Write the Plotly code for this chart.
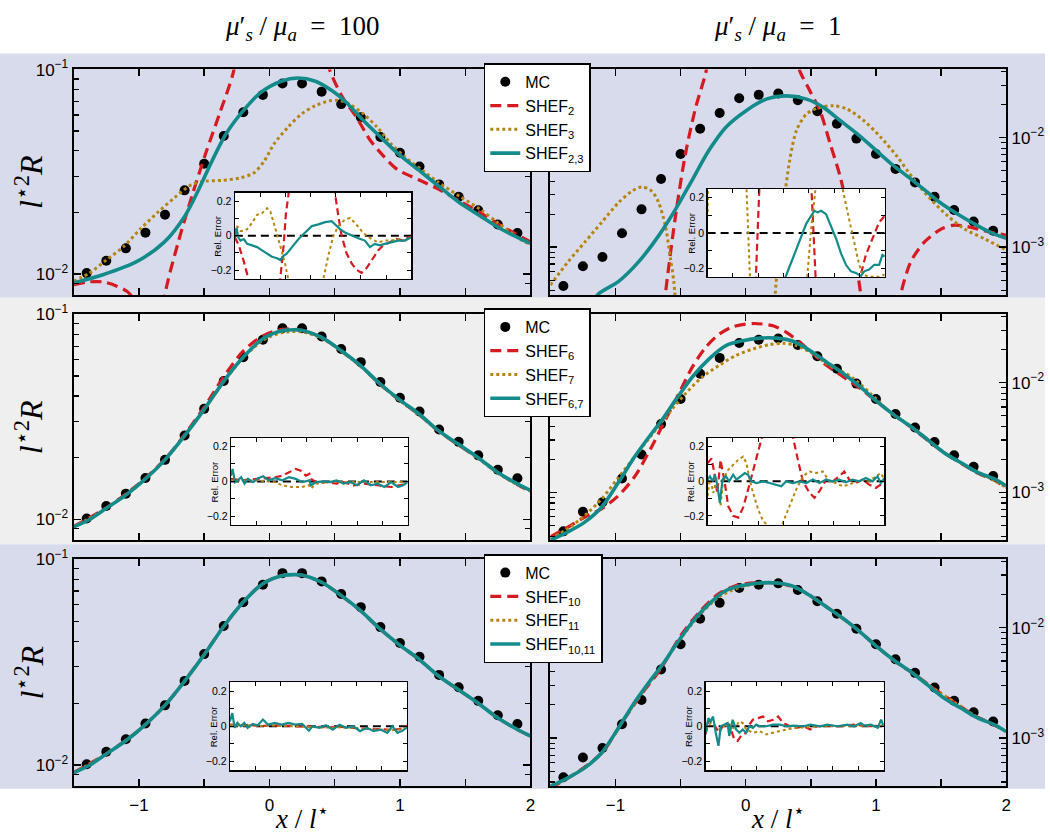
import plotly.graph_objects as go

W, H = 1050, 837
SANS = "Liberation Sans, Arial, Helvetica, sans-serif"
SERIF = "Liberation Serif, Times New Roman, serif"
RED = "#d71920"
GOLD = "#b5850f"
TEAL = "#148b8b"
BAND_BLUE = "#d8dbec"
BAND_GRAY = "#efefef"

# ---------------------------------------------------------------- data
X_MC = [-1.40, -1.25, -1.10, -0.95, -0.80, -0.65, -0.50, -0.35, -0.20, -0.05,
        0.10, 0.25, 0.40, 0.55, 0.70, 0.85, 1.00, 1.15, 1.30, 1.45, 1.60, 1.75, 1.90]
MC_A = [0.01009, 0.01161, 0.01334, 0.01592, 0.01950, 0.02564, 0.03459, 0.04732, 0.06180, 0.07516,
        0.08551, 0.08551, 0.07798, 0.06776, 0.05848, 0.04677, 0.03917, 0.03357, 0.02742, 0.02388,
        0.02051, 0.01746, 0.01585]
MC_B = [4.42e-4, 6.68e-4, 8.13e-4, 1.337e-3, 2.213e-3, 4.19e-3, 7.08e-3, 1.205e-2, 1.679e-2, 2.291e-2,
        2.455e-2, 2.523e-2, 2.198e-2, 1.738e-2, 1.337e-2, 9.79e-3, 7.08e-3, 5.18e-3, 3.90e-3, 2.877e-3,
        2.183e-3, 1.714e-3, 1.413e-3]

# row 1, mu_s'/mu_a = 100
X_R1L_S2 = [-1.5, -1.39, -1.276, -1.17, -1.066, -0.95, -0.85, -0.80, -0.698, -0.594, -0.488, -0.383, -0.278, -0.22,
            None, 0.40, 0.457, 0.562, 0.667, 0.772, 0.878, 0.982, 1.14, 1.298, 1.455, 1.612, 1.771, 2.0]
Y_R1L_S2 = [0.00887, 0.00914, 0.00914, 0.00871, 0.00794, 0.0040, 0.0040, 0.00794, 0.01435, 0.02404, 0.03890, 0.06067, 0.09616, 0.16,
            None, 0.16, 0.1016, 0.07295, 0.05848, 0.04508, 0.03750, 0.03236, 0.02897, 0.02594, 0.02275, 0.02000, 0.01726, 0.01435]
X_R1L_S3 = [-1.5, -1.38, -1.25, -1.119, -0.987, -0.856, -0.725, -0.594, -0.488, -0.357, -0.225, -0.12, -0.042, 0.037,
            0.142, 0.247, 0.352, 0.457, 0.523, 0.589, 0.72, 0.825, 0.93, 1.035, 1.166, 1.298, 1.455, 1.612, 1.744, 1.954, 2.0]
Y_R1L_S3 = [0.00920, 0.01009, 0.01169, 0.01358, 0.01663, 0.02000, 0.02366, 0.02742, 0.02844, 0.02871, 0.02951, 0.03119,
            0.03548, 0.04345, 0.05224, 0.06067, 0.06653, 0.07031, 0.07079, 0.06902, 0.06067, 0.05224, 0.04345, 0.03750,
            0.03236, 0.02793, 0.02404, 0.02075, 0.01791, 0.01435, 0.01400]
X_R1L_S23 = [-1.5, -1.276, -1.014, -0.804, -0.646, -0.541, -0.436, -0.331, -0.20, -0.068, 0.090, 0.221, 0.352, 0.483,
             0.589, 0.72, 0.851, 0.983, 1.14, 1.298, 1.455, 1.612, 1.771, 2.0]
Y_R1L_S23 = [0.00904, 0.00991, 0.01151, 0.01435, 0.01928, 0.02594, 0.03614, 0.04864, 0.06295, 0.07709, 0.08770, 0.09099,
             0.08770, 0.07852, 0.06902, 0.05636, 0.04677, 0.03890, 0.03236, 0.02685, 0.02234, 0.01928, 0.01663, 0.01409]

# row 1, mu_s'/mu_a = 1
X_R1R_S2 = [-0.64, -0.617, -0.539, -0.462, -0.384, -0.307, -0.28, None, 0.39, 0.411, 0.493, 0.570, 0.648, 0.725, 0.803,
            0.854, 0.880, 0.90, None, 1.17, 1.190, 1.267, 1.371, 1.500, 1.603, 1.732, 1.861, 2.0]
Y_R1R_S2 = [2.0e-4, 3.72e-4, 1.928e-3, 7.18e-3, 1.888e-2, 3.90e-2, 0.06, None, 0.06, 4.19e-2, 2.667e-2, 1.762e-2, 8.83e-3,
            4.42e-3, 1.679e-3, 6.38e-4, 3.94e-4, 2.0e-4, None, 2.0e-4, 3.66e-4, 7.33e-4, 1.109e-3, 1.462e-3, 1.589e-3,
            1.514e-3, 1.384e-3, 1.291e-3]
X_R1R_S3 = [-1.5, -1.365, -1.236, -1.107, -0.978, -0.875, -0.797, -0.720, -0.668, -0.617, -0.578, -0.552, -0.53, None,
            0.21, 0.248, 0.287, 0.338, 0.390, 0.467, 0.570, 0.674, 0.777, 0.906, 1.035, 1.164, 1.293, 1.422, 1.551, 1.680,
            1.835, 2.0]
Y_R1R_S3 = [4.51e-4, 7.33e-4, 1.109e-3, 1.679e-3, 2.541e-3, 3.236e-3, 3.548e-3, 3.236e-3, 2.541e-3, 1.567e-3, 7.85e-4,
            4.84e-4, 2.0e-4, None, 2.0e-4, 7.85e-4, 2.213e-3, 6.24e-3, 1.164e-2, 1.644e-2, 1.888e-2, 1.954e-2, 1.824e-2,
            1.432e-2, 1.012e-2, 6.68e-3, 4.12e-3, 2.723e-3, 1.928e-3, 1.462e-3, 1.189e-3, 9.40e-4]
X_R1R_S23 = [-1.2, -1.133, -0.978, -0.823, -0.668, -0.539, -0.410, -0.281, -0.152, 0.003, 0.158, 0.313, 0.467, 0.596,
             0.725, 0.854, 0.984, 1.113, 1.242, 1.371, 1.5, 1.629, 1.758, 1.887, 2.0]
Y_R1R_S23 = [2.8e-4, 3.72e-4, 4.84e-4, 7.33e-4, 1.274e-3, 2.213e-3, 4.12e-3, 7.69e-3, 1.245e-2, 1.762e-2, 2.244e-2,
             2.404e-2, 2.244e-2, 1.888e-2, 1.432e-2, 1.086e-2, 7.96e-3, 5.83e-3, 4.42e-3, 3.35e-3, 2.512e-3, 1.995e-3,
             1.622e-3, 1.349e-3, 1.202e-3]

# converged curves (rows 2 and 3)
X_T_A = [-1.5, -1.382, -1.25, -1.10, -0.948, -0.801, -0.651, -0.501, -0.352, -0.20, -0.05, 0.103, 0.194, 0.247, 0.397,
         0.549, 0.694, 0.843, 0.996, 1.145, 1.293, 1.447, 1.595, 1.744, 1.897, 2.0]
Y_T_A = [0.00918, 0.00995, 0.01132, 0.01312, 0.01578, 0.01950, 0.02553, 0.03428, 0.04699, 0.06194, 0.07603, 0.08337,
         0.08414, 0.08375, 0.07745, 0.06668, 0.05649, 0.04613, 0.03837, 0.03273, 0.02716, 0.02328, 0.02009, 0.01702,
         0.01493, 0.01384]
X_GRID_A = [-1.5, -1.25, -1.0, -0.8, -0.65, -0.5, -0.35, -0.2, -0.05, 0.1, 0.25, 0.4, 0.55, 0.7, 0.85, 1.0, 1.15, 1.3,
            1.45, 1.6, 1.75, 1.9, 2.0]
Y_R2L_S6 = [0.00922, 0.01138, 0.01490, 0.01965, 0.02590, 0.03520, 0.04960, 0.06630, 0.07860, 0.0845, 0.0836, 0.0771,
            0.0664, 0.0559, 0.0455, 0.0380, 0.0323, 0.0268, 0.0230, 0.0199, 0.0169, 0.01475, 0.01370]
Y_R2L_S7 = [0.00918, 0.01130, 0.01478, 0.01950, 0.02555, 0.03430, 0.04700, 0.06150, 0.07480, 0.0815, 0.0822, 0.0765,
            0.0661, 0.0557, 0.0454, 0.0379, 0.0322, 0.0268, 0.0230, 0.0198, 0.0168, 0.01475, 0.01372]
Y_R3L_S10 = [0.00920, 0.01135, 0.01478, 0.01950, 0.02565, 0.03445, 0.04730, 0.06210, 0.07620, 0.08340, 0.08365, 0.07725,
             0.06655, 0.05605, 0.04565, 0.03815, 0.03245, 0.02695, 0.02315, 0.01995, 0.01695, 0.01488, 0.01382]
Y_R3L_S11 = [0.00917, 0.01131, 0.01481, 0.01953, 0.02558, 0.03432, 0.04712, 0.06190, 0.07598, 0.08326, 0.08368, 0.07728,
             0.06658, 0.05608, 0.04568, 0.03818, 0.03248, 0.02698, 0.02318, 0.01998, 0.01698, 0.01489, 0.01383]

X_T_B = [-1.5, -1.365, -1.236, -1.107, -0.978, -0.849, -0.720, -0.642, -0.539, -0.410, -0.281, -0.152, -0.023, 0.106,
         0.235, 0.364, 0.493, 0.622, 0.751, 0.880, 1.009, 1.138, 1.267, 1.396, 1.525, 1.654, 1.784, 1.912, 2.0]
Y_T_B = [3.67e-4, 4.37e-4, 5.37e-4, 7.33e-4, 1.230e-3, 2.143e-3, 3.475e-3, 4.58e-3, 6.93e-3, 1.125e-2, 1.644e-2,
         2.173e-2, 2.410e-2, 2.541e-2, 2.541e-2, 2.377e-2, 1.959e-2, 1.535e-2, 1.205e-2, 9.14e-3, 6.70e-3, 5.08e-3,
         3.99e-3, 3.03e-3, 2.291e-3, 1.862e-3, 1.514e-3, 1.321e-3, 1.148e-3]
X_R2R_S6 = [-1.5, -1.365, -1.236, -1.107, -0.978, -0.849, -0.720, -0.617, -0.513, -0.410, -0.307, -0.204, -0.100, 0.055,
            0.210, 0.313, 0.416, 0.519, 0.622, 0.751, 0.880, 1.009, 1.138, 1.267, 1.396, 1.525, 1.654, 1.784, 1.912, 2.0]
Y_R2R_S6 = [3.94e-4, 4.84e-4, 5.96e-4, 7.08e-4, 9.33e-4, 1.413e-3, 2.636e-3, 4.58e-3, 7.96e-3, 1.384e-2, 2.099e-2,
            2.761e-2, 3.221e-2, 3.451e-2, 3.289e-2, 2.864e-2, 2.328e-2, 1.824e-2, 1.435e-2, 1.125e-2, 8.83e-3, 6.70e-3,
            5.08e-3, 3.94e-3, 2.99e-3, 2.291e-3, 1.841e-3, 1.496e-3, 1.288e-3, 1.109e-3]
X_R2R_S7 = [-1.5, -1.365, -1.236, -1.107, -0.978, -0.849, -0.720, -0.591, -0.462, -0.333, -0.204, -0.075, 0.055, 0.184,
            0.287, 0.390, 0.519, 0.622, 0.725, 0.829, 0.958, 1.1, 1.3, 1.5, 1.7, 1.9, 2.0]
Y_R2R_S7 = [3.80e-4, 4.68e-4, 6.17e-4, 8.71e-4, 1.365e-3, 2.143e-3, 3.357e-3, 5.26e-3, 7.96e-3, 1.125e-2, 1.435e-2,
            1.766e-2, 2.023e-2, 2.218e-2, 2.280e-2, 2.173e-2, 1.824e-2, 1.483e-2, 1.288e-2, 1.086e-2, 7.96e-3, 5.50e-3,
            3.76e-3, 2.427e-3, 1.718e-3, 1.303e-3, 1.109e-3]
X_GRID_B = [-1.5, -1.3, -1.1, -0.95, -0.8, -0.65, -0.5, -0.35, -0.2, -0.05, 0.1, 0.25, 0.4, 0.55, 0.7, 0.85, 1.0, 1.15,
            1.3, 1.45, 1.6, 1.75, 1.9, 2.0]
Y_R3R_S10 = [3.52e-4, 4.85e-4, 7.45e-4, 1.39e-3, 2.50e-3, 4.28e-3, 8.45e-3, 1.41e-2, 2.06e-2, 2.45e-2, 2.55e-2, 2.53e-2,
             2.26e-2, 1.77e-2, 1.33e-2, 9.78e-3, 6.86e-3, 4.93e-3, 3.75e-3, 2.78e-3, 2.12e-3, 1.62e-3, 1.33e-3, 1.15e-3]
Y_R3R_S11 = [3.62e-4, 4.82e-4, 7.42e-4, 1.40e-3, 2.53e-3, 4.42e-3, 7.95e-3, 1.32e-2, 1.92e-2, 2.31e-2, 2.52e-2, 2.53e-2,
             2.26e-2, 1.77e-2, 1.33e-2, 9.80e-3, 6.85e-3, 4.93e-3, 3.75e-3, 2.78e-3, 2.12e-3, 1.62e-3, 1.33e-3, 1.148e-3]

# insets: relative error
ZERO_X = [-1.5, 2.0]
ZERO_Y = [0.0, 0.0]

X_I1L_S2 = [-1.5, -1.421, -1.322, -1.237, -1.22, None, -0.61, -0.599, -0.533, -0.487, -0.434, -0.42, None,
            0.48, 0.487, 0.553, 0.618, 0.717, 0.816, 0.914, 1.013, 1.112, 1.211, 1.342, 1.441, 1.572, 1.704, 1.836, 2.0]
Y_I1L_S2 = [-0.009, -0.056, -0.150, -0.244, -0.35, None, -0.35, -0.248, -0.056, 0.131, 0.244, 0.35, None,
            0.35, 0.244, 0.113, 0.0, -0.103, -0.160, -0.197, -0.216, -0.188, -0.141, -0.085, -0.056, -0.038, -0.019,
            -0.028, 0.0]
X_I1L_S3 = [-1.5, -1.454, -1.388, -1.322, -1.257, -1.158, -1.059, -0.961, -0.862, -0.796, -0.730, -0.632, -0.566, -0.500,
            -0.447, -0.43, None, 0.24, 0.257, 0.355, 0.454, 0.553, 0.684, 0.783, 0.882, 1.013, 1.112, 1.211, 1.342, 1.474,
            1.605, 1.737, 1.868, 2.0]
Y_I1L_S3 = [0.019, 0.056, 0.028, 0.028, 0.038, 0.075, 0.122, 0.131, 0.160, 0.141, 0.075, -0.019, -0.094, -0.169,
            -0.244, -0.35, None, -0.35, -0.248, -0.113, 0.0, 0.056, 0.094, 0.103, 0.075, 0.028, 0.0, -0.019, -0.038,
            -0.028, -0.028, -0.019, -0.028, -0.009]
X_I1L_S23 = [-1.5, -1.467, -1.434, -1.388, -1.322, -1.257, -1.158, -1.059, -0.961, -0.862, -0.763, -0.664, -0.599,
             -0.533, -0.467, -0.368, -0.237, -0.105, 0.026, 0.158, 0.289, 0.421, 0.487, 0.586, 0.684, 0.816, 0.947,
             1.079, 1.178, 1.276, 1.375, 1.474, 1.605, 1.737, 1.868, 2.0]
Y_I1L_S23 = [0.0, 0.047, -0.009, -0.028, -0.019, -0.047, -0.056, -0.066, -0.085, -0.103, -0.122, -0.131, -0.141,
             -0.116, -0.103, -0.066, -0.019, 0.019, 0.056, 0.066, 0.079, 0.085, 0.066, 0.038, 0.019, 0.0, -0.015,
             -0.028, -0.066, -0.047, -0.056, -0.047, -0.038, -0.028, -0.028, -0.009]

X_I1R_S2 = [-0.56, -0.465, None, 0.535, 0.65, None, 1.49, 1.515, 1.626, 1.757, 1.889, 2.0]
Y_I1R_S2 = [-0.35, 0.35, None, 0.35, -0.35, None, -0.35, -0.248, -0.124, -0.031, 0.061, 0.098]
X_I1R_S3 = [-1.5, -1.49, None, -0.745, -0.65, None, 0.44, 0.545, 0.61, 0.665, None, 1.15, 1.167, 1.266, 1.364, 1.430,
            1.495, 1.561, 1.692, 1.889, 2.0]
Y_I1R_S3 = [0.12, 0.35, None, 0.35, -0.35, None, -0.35, 0.024, 0.19, 0.35, None, 0.35, 0.25, 0.117, -0.013, -0.106,
            -0.18, -0.235, -0.248, -0.248, -0.235]
X_I1R_S23 = [0.0, 0.040, 0.184, 0.316, 0.447, 0.545, 0.610, 0.676, 0.742, 0.840, 0.938, 1.037, 1.135, 1.233, 1.331,
             1.430, 1.528, 1.594, 1.692, 1.790, 1.889, 1.954, 2.0]
Y_I1R_S23 = [-0.32, -0.248, -0.143, -0.05, 0.052, 0.098, 0.126, 0.117, 0.126, 0.107, 0.043, -0.031, -0.115, -0.18,
             -0.217, -0.226, -0.244, -0.217, -0.207, -0.18, -0.18, -0.124, -0.133]

X_I2L_S6 = [-1.5, -1.297, -0.959, -0.622, -0.486, -0.351, -0.216, -0.115, -0.014, 0.054, 0.088, 0.189, 0.392, 0.595,
            0.730, 0.932, 1.135, 1.405, 1.676, 2.0]
Y_I2L_S6 = [0.015, 0.006, 0.015, 0.024, 0.033, 0.052, 0.071, 0.061, 0.033, 0.043, 0.015, -0.004, -0.004, -0.013,
            -0.004, -0.022, -0.013, -0.022, -0.032, -0.013]
X_I2L_S7 = [-1.5, -1.0, -0.622, -0.486, -0.30, -0.1, 0.054, 0.088, 0.189, 0.459, 0.73, 1.0, 1.4, 2.0]
Y_I2L_S7 = [0.006, 0.006, -0.004, -0.022, -0.032, -0.032, -0.022, -0.041, -0.013, -0.004, -0.004, -0.004, -0.004,
            -0.004]
X_I2L_S67 = [-1.5, -1.466, -1.419, -1.365, -1.297, -1.230, -1.162, -1.061, -0.959, -0.858, -0.757, -0.622, -0.486,
             -0.351, -0.216, -0.081, 0.054, 0.088, 0.189, 0.324, 0.459, 0.595, 0.730, 0.865, 1.0, 1.135, 1.270, 1.405,
             1.541, 1.676, 1.811, 1.912, 2.0]
Y_I2L_S67 = [0.033, 0.071, -0.004, 0.006, 0.024, -0.013, 0.015, -0.004, 0.019, 0.030, 0.006, 0.019, 0.006, 0.024,
             0.015, -0.004, 0.006, -0.022, -0.004, 0.0, -0.004, 0.006, -0.013, -0.004, -0.022, 0.006, -0.022, -0.013,
             -0.032, -0.004, -0.032, -0.022, -0.004]

X_I2R_S6 = [-1.5, -1.421, -1.356, -1.31, -1.244, -1.159, -1.093, -0.994, -0.896, -0.797, -0.699, -0.600, -0.501,
            -0.423, -0.40, None, 0.17, 0.188, 0.287, 0.386, 0.517, 0.616, 0.714, 0.844, 0.976, 1.106, 1.204, 1.303,
            1.435, 1.566, 1.697, 1.829, 1.927, 2.0]
Y_I2R_S6 = [0.105, 0.133, 0.029, -0.067, 0.124, -0.01, -0.143, -0.2, -0.21, -0.152, -0.048, 0.067, 0.181, 0.257, 0.35,
            None, 0.35, 0.257, 0.124, 0.0, -0.067, -0.095, -0.057, 0.01, 0.0, 0.029, 0.057, 0.01, -0.01, 0.01, -0.019,
            -0.038, -0.019, -0.029]
X_I2R_S7 = [-1.5, -1.454, -1.388, -1.323, -1.244, -1.191, -1.093, -0.994, -0.896, -0.797, -0.732, -0.667, -0.600,
            -0.501, -0.403, -0.304, -0.25, None, -0.08, -0.009, 0.122, 0.253, 0.386, 0.517, 0.648, 0.779, 0.910, 1.041,
            1.172, 1.303, 1.435, 1.566, 1.697, 1.829, 1.927, 2.0]
Y_I2R_S7 = [-0.086, 0.029, -0.067, 0.01, -0.143, 0.01, 0.067, 0.095, 0.124, 0.143, 0.105, 0.01, -0.067, -0.162,
            -0.229, -0.257, -0.35, None, -0.35, -0.238, -0.143, -0.048, 0.029, 0.057, 0.048, 0.057, 0.0, -0.01,
            -0.029, -0.019, 0.0, 0.01, 0.0, 0.029, 0.048, 0.01]
X_I2R_S67 = [-1.5, -1.454, -1.40, -1.356, -1.31, -1.257, -1.205, -1.139, -1.073, -0.994, -0.929, -0.85, -0.765,
             -0.699, -0.633, -0.534, -0.403, -0.272, -0.141, -0.042, 0.056, 0.188, 0.32, 0.451, 0.583, 0.714, 0.844,
             0.976, 1.106, 1.237, 1.369, 1.5, 1.632, 1.763, 1.862, 1.927, 2.0]
Y_I2R_S67 = [0.01, 0.029, 0.0, 0.038, -0.019, -0.124, 0.01, 0.029, 0.0, 0.038, 0.01, 0.029, 0.048, 0.038, 0.0, -0.01,
             0.0, -0.01, -0.019, -0.029, 0.0, -0.01, 0.0, -0.01, 0.01, -0.01, 0.01, 0.0, 0.01, -0.006, 0.01, 0.0, 0.019,
             0.0, 0.029, -0.01, 0.019]

X_I3L_S10 = [-1.5, -1.3, -1.1, -0.9, -0.7, -0.5, -0.3, -0.1, 0.1, 0.3, 0.5, 0.7, 0.9, 1.1, 1.3, 1.5, 1.7, 1.9, 2.0]
Y_I3L_S10 = [0.01, 0.005, 0.008, 0.0, 0.006, 0.004, 0.002, 0.0, -0.004, -0.002, -0.006, -0.004, -0.01, -0.012, -0.015,
             -0.018, -0.02, -0.015, 0.005]
Y_I3L_S11 = [0.008, 0.004, 0.006, 0.002, 0.004, 0.002, 0.0, -0.002, -0.005, -0.004, -0.008, -0.006, -0.012, -0.014,
             -0.016, -0.02, -0.022, -0.016, 0.0]
X_I3L_S1011 = [-1.5, -1.453, -1.406, -1.352, -1.285, -1.217, -1.150, -1.049, -0.948, -0.847, -0.746, -0.611, -0.477,
               -0.342, -0.208, -0.073, 0.062, 0.129, 0.264, 0.398, 0.533, 0.667, 0.802, 0.937, 1.071, 1.206, 1.340,
               1.475, 1.610, 1.711, 1.812, 1.913, 2.0]
Y_I3L_S1011 = [0.028, 0.075, -0.009, 0.019, 0.0, 0.019, -0.009, 0.013, 0.006, 0.038, 0.009, 0.019, 0.009, 0.019,
               0.009, 0.013, -0.025, 0.0, -0.009, 0.006, -0.019, 0.009, -0.009, 0.0, -0.028, -0.009, -0.028, -0.019,
               -0.038, 0.0, -0.038, -0.025, -0.006]

X_I3R_S10 = [-1.5, -1.434, -1.334, -1.235, -1.135, -1.036, -0.937, -0.870, -0.804, -0.705, -0.638, -0.572, -0.473,
             -0.373, -0.274, -0.174, -0.075, 0.025, 0.157, 0.290, 0.423, 0.555, 0.688, 0.887, 1.152, 1.417, 1.748, 2.0]
Y_I3R_S10 = [-0.046, 0.037, 0.009, -0.037, 0.018, 0.009, -0.074, -0.083, -0.055, -0.037, 0.009, 0.037, 0.046, 0.055,
             0.028, 0.037, 0.055, 0.018, 0.0, -0.009, 0.0, -0.018, 0.0, 0.004, 0.0, 0.009, 0.0, 0.004]
X_I3R_S11 = [-1.5, -1.401, -1.301, -1.202, -1.102, -1.003, -0.903, -0.837, -0.771, -0.705, -0.572, -0.439, -0.307,
             -0.174, -0.042, 0.091, 0.290, 0.489, 0.754, 1.085, 1.417, 2.0]
Y_I3R_S11 = [-0.018, 0.018, -0.009, -0.018, 0.009, -0.018, 0.0, 0.028, 0.018, -0.018, -0.037, -0.028, -0.046, -0.037,
             -0.028, -0.018, -0.009, -0.004, 0.0, 0.0, 0.004, 0.0]
X_I3R_S1011 = [-1.5, -1.447, -1.401, -1.354, -1.301, -1.248, -1.202, -1.135, -1.069, -1.036, -0.970, -0.903, -0.837,
               -0.771, -0.705, -0.638, -0.572, -0.506, -0.439, -0.307, -0.174, -0.042, 0.091, 0.224, 0.423, 0.555,
               0.754, 0.887, 1.085, 1.284, 1.417, 1.549, 1.616, 1.748, 1.881, 1.947, 2.0]
Y_I3R_S1011 = [-0.037, 0.046, 0.028, 0.055, -0.037, -0.111, 0.0, 0.009, 0.018, -0.055, 0.037, -0.018, -0.037, -0.018,
               -0.037, 0.0, -0.009, 0.009, 0.0, 0.0, 0.009, 0.009, 0.0, 0.004, 0.0, 0.009, 0.0, 0.009, 0.0, 0.009, 0.0,
               0.018, 0.004, 0.009, -0.009, 0.037, 0.0]

# ticks and labels (major ticks carry labels, minor ticks are unlabeled)
X_TICKS = [-1, 0, 1, 2]
X_TICKTEXT = ["\u22121", "0", "1", "2"]
X_MINOR = [-0.5, 0.5, 1.5]
Y_TICKS_A = [0.01, 0.1]
Y_TICKTEXT_A = ["10<sup>\u22122</sup>", "10<sup>\u22121</sup>"]
Y_MINOR_A = [0.009, 0.02, 0.03, 0.04, 0.05, 0.06, 0.07, 0.08, 0.09]
Y_TICKS_B = [1e-3, 1e-2]
Y_TICKTEXT_B = ["10<sup>\u22123</sup>", "10<sup>\u22122</sup>"]
Y_MINOR_B = [4e-4, 5e-4, 6e-4, 7e-4, 8e-4, 9e-4, 2e-3, 3e-3, 4e-3, 5e-3, 6e-3, 7e-3, 8e-3, 9e-3, 2e-2, 3e-2, 4e-2]
INSET_X_TICKS = [-1, -0.5, 0, 0.5, 1, 1.5]
INSET_Y_TICKS = [-0.2, 0, 0.2]
INSET_Y_TICKTEXT = ["\u22120.2", "0", "0.2"]
INSET_Y_MINOR = [-0.1, 0.1]

COL_TITLES = ["<i>\u03bc</i>\u2032<sub><i>s</i></sub> / <i>\u03bc</i><sub><i>a</i></sub>  =  100",
              "<i>\u03bc</i>\u2032<sub><i>s</i></sub> / <i>\u03bc</i><sub><i>a</i></sub>  =  1"]
Y_TITLE = "<i>l</i><sup>\u22c62</sup><i>R</i>"
X_TITLE = "<i>x</i> / <i>l</i><sup>\u22c6</sup>"
LEGEND_NAMES = [
    ["MC", "SHEF<sub>2</sub>", "SHEF<sub>3</sub>", "SHEF<sub>2,3</sub>"],
    ["MC", "SHEF<sub>6</sub>", "SHEF<sub>7</sub>", "SHEF<sub>6,7</sub>"],
    ["MC", "SHEF<sub>10</sub>", "SHEF<sub>11</sub>", "SHEF<sub>10,11</sub>"],
]

PANELS = [
    dict(mc=MC_A, a=(X_R1L_S2, Y_R1L_S2), b=(X_R1L_S3, Y_R1L_S3), ab=(X_R1L_S23, Y_R1L_S23),
         ia=(X_I1L_S2, Y_I1L_S2), ib=(X_I1L_S3, Y_I1L_S3), iab=(X_I1L_S23, Y_I1L_S23)),
    dict(mc=MC_B, a=(X_R1R_S2, Y_R1R_S2), b=(X_R1R_S3, Y_R1R_S3), ab=(X_R1R_S23, Y_R1R_S23),
         ia=(X_I1R_S2, Y_I1R_S2), ib=(X_I1R_S3, Y_I1R_S3), iab=(X_I1R_S23, Y_I1R_S23)),
    dict(mc=MC_A, a=(X_GRID_A, Y_R2L_S6), b=(X_GRID_A, Y_R2L_S7), ab=(X_T_A, Y_T_A),
         ia=(X_I2L_S6, Y_I2L_S6), ib=(X_I2L_S7, Y_I2L_S7), iab=(X_I2L_S67, Y_I2L_S67)),
    dict(mc=MC_B, a=(X_R2R_S6, Y_R2R_S6), b=(X_R2R_S7, Y_R2R_S7), ab=(X_T_B, Y_T_B),
         ia=(X_I2R_S6, Y_I2R_S6), ib=(X_I2R_S7, Y_I2R_S7), iab=(X_I2R_S67, Y_I2R_S67)),
    dict(mc=MC_A, a=(X_GRID_A, Y_R3L_S10), b=(X_GRID_A, Y_R3L_S11), ab=(X_T_A, Y_T_A),
         ia=(X_I3L_S10, Y_I3L_S10), ib=(X_I3L_S10, Y_I3L_S11), iab=(X_I3L_S1011, Y_I3L_S1011)),
    dict(mc=MC_B, a=(X_GRID_B, Y_R3R_S10), b=(X_GRID_B, Y_R3R_S11), ab=(X_T_B, Y_T_B),
         ia=(X_I3R_S10, Y_I3R_S10), ib=(X_I3R_S11, Y_I3R_S11), iab=(X_I3R_S1011, Y_I3R_S1011)),
]

# ---------------------------------------------------------------- layout geometry (pixels)
PANEL_X = [(74, 533), (553, 1011)]
PANEL_Y = [(58.3, 287.0), (306.7, 536.0), (555.0, 785.5)]
INSET_BOX = [(236, 413.3, 183.3, 270.7), (711, 889, 179.5, 269.0),
             (232, 409.5, 432.0, 520.5), (711, 888.7, 432.3, 520.0),
             (231, 409, 680.0, 769.3), (709, 888, 680.0, 769.3)]
BANDS = [(42, 290, BAND_BLUE), (290, 540, BAND_GRAY), (540, 788, BAND_BLUE)]
LEGEND_TOP = [52, 300.7, 550]
LEGEND_LEFT = 486
Y_RANGE_A = [-2.1026, -0.9995]
Y_RANGE_B = [-3.436, -1.378]


def xr(n):
    return "x" if n == 1 else f"x{n}"


def yr(n):
    return "y" if n == 1 else f"y{n}"


def xk(n):
    return "xaxis" if n == 1 else f"xaxis{n}"


def yk(n):
    return "yaxis" if n == 1 else f"yaxis{n}"


def minor_ticks(vals, length, width):
    return dict(tickmode="array", tickvals=vals, ticks="inside", ticklen=length, tickwidth=width,
                tickcolor="black", showgrid=False)


fig = go.Figure()
layout = {}
annotations = []
legend_keys = ["legend", "legend2", "legend3"]

MAIN_STYLE = {
    "a": dict(mode="lines", line=dict(color=RED, width=3.2, dash="11px,6px", shape="spline", smoothing=0.8)),
    "b": dict(mode="lines", line=dict(color=GOLD, width=3.0, dash="dot", shape="spline", smoothing=0.8)),
    "ab": dict(mode="lines", line=dict(color=TEAL, width=3.6, shape="spline", smoothing=0.8)),
}
INSET_STYLE = {
    "a": dict(mode="lines", line=dict(color=RED, width=2.2, dash="7px,4px")),
    "b": dict(mode="lines", line=dict(color=GOLD, width=2.0, dash="dot")),
    "ab": dict(mode="lines", line=dict(color=TEAL, width=2.2)),
}

for p, P in enumerate(PANELS):
    row, col = divmod(p, 2)
    n, m = p + 1, p + 7
    leg = legend_keys[row]
    show = col == 0
    names = LEGEND_NAMES[row]

    fig.add_trace(go.Scatter(x=X_MC, y=P["mc"], mode="markers", name=names[0],
                             marker=dict(color="black", size=10, line=dict(width=0)),
                             legend=leg, showlegend=show, xaxis=xr(n), yaxis=yr(n)))
    for key, nm in zip(["a", "b", "ab"], names[1:]):
        xs, ys = P[key]
        fig.add_trace(go.Scatter(x=xs, y=ys, name=nm, legend=leg, showlegend=show,
                                 xaxis=xr(n), yaxis=yr(n), **MAIN_STYLE[key]))

    # inset traces
    fig.add_trace(go.Scatter(x=ZERO_X, y=ZERO_Y, mode="lines", showlegend=False,
                             line=dict(color="black", width=2, dash="8px,5px"), xaxis=xr(m), yaxis=yr(m)))
    for key in ["a", "b", "ab"]:
        xs, ys = P["i" + key]
        fig.add_trace(go.Scatter(x=xs, y=ys, showlegend=False, xaxis=xr(m), yaxis=yr(m), **INSET_STYLE[key]))

    # main axes
    x0, x1 = PANEL_X[col]
    yt, yb = PANEL_Y[row]
    bottom = row == 2
    layout[xk(n)] = dict(domain=[x0 / W, x1 / W], range=[-1.5, 2.0], anchor=yr(n),
                         tickmode="array", tickvals=X_TICKS, ticktext=X_TICKTEXT,
                         showticklabels=bottom, ticks="inside", ticklen=7, tickwidth=1.4, tickcolor="black",
                         minor=minor_ticks(X_MINOR, 7, 1.4),
                         showline=True, linecolor="black", linewidth=2, mirror="ticks",
                         showgrid=False, zeroline=False, fixedrange=True, ticklabelstandoff=2,
                         tickfont=dict(family=SANS, size=17, color="black"))
    layout[yk(n)] = dict(domain=[1 - yb / H, 1 - yt / H], type="log",
                         range=Y_RANGE_A if col == 0 else Y_RANGE_B, anchor=xr(n),
                         side="left" if col == 0 else "right",
                         tickmode="array",
                         tickvals=Y_TICKS_A if col == 0 else Y_TICKS_B,
                         ticktext=Y_TICKTEXT_A if col == 0 else Y_TICKTEXT_B,
                         ticks="inside", ticklen=7, tickwidth=1.4, tickcolor="black",
                         minor=minor_ticks(Y_MINOR_A if col == 0 else Y_MINOR_B, 5, 1.2),
                         showline=True, linecolor="black", linewidth=2, mirror="ticks",
                         showgrid=False, zeroline=False, fixedrange=True,
                         tickfont=dict(family=SANS, size=17, color="black"))

    # inset axes
    ix0, ix1, iyt, iyb = INSET_BOX[p]
    layout[xk(m)] = dict(domain=[ix0 / W, ix1 / W], range=[-1.5, 2.0], anchor=yr(m),
                         tickmode="array", tickvals=INSET_X_TICKS, showticklabels=False,
                         ticks="inside", ticklen=4, tickwidth=1, tickcolor="black",
                         showline=True, linecolor="black", linewidth=1.3, mirror="ticks",
                         showgrid=False, zeroline=False, fixedrange=True)
    layout[yk(m)] = dict(domain=[1 - iyb / H, 1 - iyt / H], range=[-0.25, 0.25], anchor=xr(m),
                         tickmode="array", tickvals=INSET_Y_TICKS, ticktext=INSET_Y_TICKTEXT,
                         ticks="inside", ticklen=4, tickwidth=1, tickcolor="black",
                         minor=minor_ticks(INSET_Y_MINOR, 4, 1),
                         showline=True, linecolor="black", linewidth=1.3, mirror="ticks",
                         showgrid=False, zeroline=False, fixedrange=True,
                         tickfont=dict(family=SANS, size=10.5, color="black"))
    annotations.append(dict(text="Rel. Error", xref="paper", yref="paper",
                            x=(ix0 - 17) / W, y=1 - ((iyt + iyb) / 2) / H, textangle=-90,
                            showarrow=False, xanchor="center", yanchor="middle",
                            font=dict(family=SANS, size=9.5, color="black")))

for r in range(3):
    layout[legend_keys[r]] = dict(x=LEGEND_LEFT / W, y=1 - LEGEND_TOP[r] / H, xanchor="left", yanchor="top",
                                  bgcolor="white", bordercolor="black", borderwidth=1.6,
                                  font=dict(family=SANS, size=16, color="black"),
                                  tracegroupgap=0, itemwidth=30, traceorder="normal")
    yt, yb = PANEL_Y[r]
    annotations.append(dict(text=Y_TITLE, xref="paper", yref="paper", x=29 / W, y=1 - ((yt + yb) / 2) / H,
                            textangle=-90, showarrow=False, xanchor="center", yanchor="middle",
                            font=dict(family=SERIF, size=32, color="black")))

for c in range(2):
    x0, x1 = PANEL_X[c]
    annotations.append(dict(text=COL_TITLES[c], xref="paper", yref="paper", x=((x0 + x1) / 2) / W, y=1 - 16 / H,
                            showarrow=False, xanchor="center", yanchor="middle",
                            font=dict(family=SERIF, size=27, color="black")))
    annotations.append(dict(text=X_TITLE, xref="paper", yref="paper", x=((x0 + x1) / 2) / W, y=1 - 817 / H,
                            showarrow=False, xanchor="center", yanchor="middle",
                            font=dict(family=SERIF, size=27, color="black")))

shapes = [dict(type="rect", xref="paper", yref="paper", x0=0, x1=1, y0=1 - b / H, y1=1 - t / H,
               fillcolor=col, line=dict(width=0), layer="below") for (t, b, col) in BANDS]

fig.update_layout(**layout)
fig.update_layout(width=W, height=H, autosize=False, margin=dict(l=0, r=0, t=0, b=0),
                  paper_bgcolor="white", plot_bgcolor="white", hovermode=False,
                  annotations=annotations, shapes=shapes)

fig.write_html("out.html", config={"displayModeBar": False, "staticPlot": True},
               post_script="document.body.style.margin='0px';")
